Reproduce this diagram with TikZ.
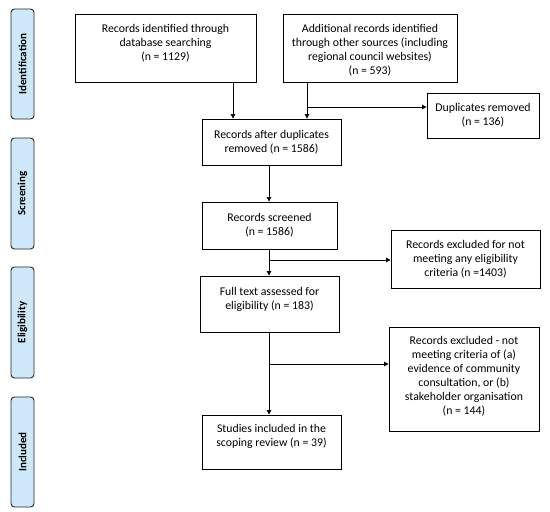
\documentclass[tikz,border=0pt]{standalone}
\usepackage{fontspec}
\setmainfont{Carlito}
\usetikzlibrary{arrows.meta}
\definecolor{phasefill}{RGB}{206,232,249}
\begin{document}
\begin{tikzpicture}[x=1pt,y=-1pt,
  box/.style={draw=black,line width=0.9pt,inner sep=0pt},
  txt/.style={align=center,font=\fontsize{11.8}{14}\selectfont,inner sep=0pt},
  phase/.style={draw=black!85,line width=0.9pt,fill=phasefill,rounded corners=3.5pt,inner sep=0pt},
  phasetext/.style={rotate=90,font=\bfseries\fontsize{11}{13}\selectfont},
  arr/.style={line width=0.9pt,-{Triangle[width=4.5pt,length=4.5pt]}}]
\useasboundingbox (0,0) rectangle (550,512);
% phase labels
\node[phase,minimum width=23pt,minimum height=110pt] (p1) at (22.5,64) {};
\node[phasetext] (p1t) at (p1) {Identification};
\node[phase,minimum width=23pt,minimum height=111pt] (p2) at (22.5,193.5) {};
\node[phasetext] (p2t) at (p2) {Screening};
\node[phase,minimum width=23pt,minimum height=111pt] (p3) at (22.5,322.5) {};
\node[phasetext] (p3t) at (p3) {Eligibility};
\node[phase,minimum width=23pt,minimum height=110pt] (p4) at (22.5,452) {};
\node[phasetext] (p4t) at (p4) {Included};
% boxes
\node[box,minimum width=181pt,minimum height=68pt] (b1) at (165.5,48) {};
\node[txt] (b1t) at (165.5,43) {Records identified through\\database searching\\(n = 1129)};
\node[box,minimum width=174pt,minimum height=68pt] (b2) at (370,48) {};
\node[txt] (b2t) at (370,50) {Additional records identified\\through other sources (including\\regional council websites)\\(n = 593)};
\node[box,minimum width=112pt,minimum height=45pt] (dup) at (483,115.5) {};
\node[txt] (dupt) at (483,115) {Duplicates removed\\(n = 136)};
\node[box,minimum width=139pt,minimum height=46pt] (after) at (271.5,142) {};
\node[txt] (aftert) at (271.5,142) {Records after duplicates\\removed (n = 1586)};
\node[box,minimum width=135pt,minimum height=47pt] (scr) at (269.5,225.5) {};
\node[txt] (scrt) at (269.5,225) {Records screened\\(n = 1586)};
\node[box,minimum width=149pt,minimum height=58pt] (ex1) at (465.5,259) {};
\node[txt] (ex1t) at (465.5,259) {Records excluded for not\\meeting any eligibility\\criteria (n =1403)};
\node[box,minimum width=139pt,minimum height=56pt] (full) at (269.5,304) {};
\node[txt] (fullt) at (269.5,299) {Full text assessed for\\eligibility (n = 183)};
\node[box,minimum width=150pt,minimum height=104pt] (ex2) at (464,379) {};
\node[txt] (ex2t) at (464,376.7) {Records excluded - not\\meeting criteria of (a)\\evidence of community\\consultation, or (b)\\stakeholder organisation\\(n = 144)};
\node[box,minimum width=139pt,minimum height=54pt] (inc) at (271.5,442) {};
\node[txt] (inct) at (271.5,436.4) {Studies included in the\\scoping review (n = 39)};
% connectors
\coordinate (j1) at (307,107);
\coordinate (j2) at (269,260);
\coordinate (j3) at (269,364);
\draw[arr] (b1.south -| 233,0) -- (after.north -| 233,0);
\draw[arr] (b2.south -| 307,0) -- (after.north -| 307,0);
\draw[arr] (j1) -- (dup.west |- j1);
\draw[arr] (after.south -| 269,0) -- (scr.north -| 269,0);
\draw[arr] (scr.south -| 269,0) -- (full.north -| 269,0);
\draw[arr] (j2) -- (ex1.west |- j2);
\draw[arr] (full.south -| 269,0) -- (inc.north -| 269,0);
\draw[arr] (j3) -- (ex2.west |- j3);
\end{tikzpicture}
\end{document}
